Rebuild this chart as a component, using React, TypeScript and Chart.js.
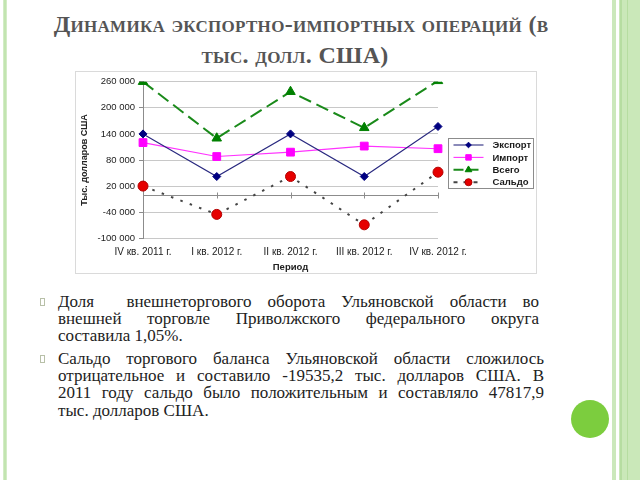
import React, { useEffect, useRef } from "react";
import { Chart, registerables } from "chart.js";
import { drawPoint } from "chart.js/helpers";

Chart.register(...registerables);

// ---------- data ----------
const categories = ["IV кв. 2011 г.", "I кв. 2012 г.", "II кв. 2012 г.", "III кв. 2012 г.", "IV кв. 2012 г."];
const exportValues = [140000, 42000, 140000, 42000, 157000];
const importValues = [120000, 88000, 98000, 112000, 106000];
const totalValues = [260000, 130000, 237000, 154000, 262000];
const saldoValues = [20000, -45000, 42000, -69000, 52000];
const seriesNames = ["Экспорт", "Импорт", "Всего", "Сальдо"];
const yMin = -100000;
const yMax = 260000;
const yStep = 60000;
const yAxisTitle = "Тыс. долларов США";
const xAxisTitle = "Период";

const titleLine1 = "Динамика экспортно-импортных операций (в";
const titleLine2 = "тыс. долл. США)";
const paragraph1 = [
  "Доля  внешнеторгового оборота Ульяновской области во",
  "внешней торговле Приволжского федерального округа",
  "составила 1,05%.",
];
const paragraph2 = [
  "Сальдо торгового баланса Ульяновской области сложилось",
  "отрицательное и составило -19535,2 тыс. долларов США. В",
  "2011 году сальдо было положительным и составляло 47817,9",
  "тыс. долларов США.",
];

function fmt(v: number): string {
  const s = Math.abs(v).toString().replace(/\B(?=(\d{3})+(?!\d))/g, " ");
  return (v < 0 ? "-" : "") + s;
}

const FONT = "'Liberation Sans', Arial, sans-serif";

const zeroLinePlugin = {
  id: "zeroLine",
  beforeDatasetsDraw(chart: any) {
    const { ctx, chartArea, scales } = chart;
    const y = Math.round(scales.y.getPixelForValue(0)) + 0.5;
    ctx.save();
    ctx.strokeStyle = "#8c8c8c";
    ctx.lineWidth = 1;
    ctx.beginPath();
    ctx.moveTo(chartArea.left, y);
    ctx.lineTo(chartArea.right, y);
    for (let i = 0; i < categories.length; i++) {
      const x = Math.round(scales.x.getPixelForValue(i)) + 0.5;
      ctx.moveTo(x, y - 3);
      ctx.lineTo(x, y + 3);
    }
    ctx.stroke();
    ctx.restore();
  },
};

const boxLegendPlugin = {
  id: "boxLegend",
  afterDraw(chart: any) {
    const { ctx, chartArea } = chart;
    const w = 85;
    const h = 50;
    const x0 = Math.round(chartArea.right + 10) + 0.5;
    const y0 = Math.round((chartArea.top + chartArea.bottom) / 2 - h / 2 + 3) + 0.5;
    ctx.save();
    ctx.fillStyle = "#ffffff";
    ctx.fillRect(x0, y0, w, h);
    ctx.strokeStyle = "#8c8c8c";
    ctx.lineWidth = 1;
    ctx.strokeRect(x0, y0, w, h);
    chart.data.datasets.forEach((ds: any, i: number) => {
      const y = y0 + 6.5 + i * 12.4;
      ctx.save();
      ctx.strokeStyle = ds.borderColor;
      ctx.lineWidth = ds.borderWidth;
      ctx.setLineDash(ds.legendDash || []);
      ctx.beginPath();
      ctx.moveTo(x0 + 5, y);
      ctx.lineTo(x0 + 35, y);
      ctx.stroke();
      ctx.restore();
      ctx.save();
      ctx.fillStyle = ds.pointBackgroundColor;
      ctx.strokeStyle = ds.pointBorderColor;
      ctx.lineWidth = 1;
      drawPoint(ctx, { pointStyle: ds.pointStyle, radius: ds.pointRadius * 0.7, rotation: 0, borderWidth: 1 }, x0 + 20, y);
      ctx.restore();
      ctx.fillStyle = "#1a1a1a";
      ctx.font = "bold 9.5px " + FONT;
      ctx.textBaseline = "middle";
      ctx.textAlign = "left";
      ctx.fillText(ds.label, x0 + 44, y + 0.5);
    });
    ctx.restore();
  },
};

function ChartBox() {
  const ref = useRef<HTMLCanvasElement | null>(null);
  useEffect(() => {
    if (!ref.current) return;
    const chart = new Chart(ref.current, {
      type: "line",
      data: {
        labels: categories,
        datasets: [
          {
            label: seriesNames[0],
            data: exportValues,
            borderColor: "#2a2a80",
            borderWidth: 1.1,
            pointStyle: "rectRot",
            pointRadius: 4,
            pointBackgroundColor: "#000080",
            pointBorderColor: "#000080",
            pointBorderWidth: 1,
          } as any,
          {
            label: seriesNames[1],
            data: importValues,
            borderColor: "#ff33ff",
            borderWidth: 1.1,
            pointStyle: "rect",
            pointRadius: 5.5,
            pointBackgroundColor: "#ff00ff",
            pointBorderColor: "#ff00ff",
            pointBorderWidth: 1,
          } as any,
          {
            label: seriesNames[2],
            data: totalValues,
            borderColor: "#1a8a1a",
            borderWidth: 2,
            borderDash: [13, 6],
            legendDash: [10, 5],
            pointStyle: "triangle",
            pointRadius: 5.5,
            pointBackgroundColor: "#008000",
            pointBorderColor: "#008000",
            pointBorderWidth: 1,
          } as any,
          {
            label: seriesNames[3],
            data: saldoValues,
            borderColor: "#444444",
            borderWidth: 2,
            borderDash: [2.5, 7.5],
            legendDash: [4, 6],
            pointStyle: "circle",
            pointRadius: 5,
            pointBackgroundColor: "#e60000",
            pointBorderColor: "#b30000",
            pointBorderWidth: 1,
          } as any,
        ],
      },
      options: {
        responsive: false,
        animation: false,
        devicePixelRatio: 1,
        layout: { padding: { top: 8.7, right: 98, bottom: 0, left: 0 } },
        plugins: {
          legend: { display: false },
          tooltip: { enabled: false },
          title: { display: false },
        },
        elements: { line: { tension: 0 } },
        scales: {
          x: {
            type: "category",
            offset: false,
            grid: { display: false },
            border: { display: false },
            ticks: {
              color: "#222222",
              font: { family: FONT, size: 10 },
              padding: 0,
              maxRotation: 0,
              autoSkip: false,
            },
            title: {
              display: true,
              text: xAxisTitle,
              color: "#222222",
              font: { family: FONT, size: 9.5, weight: "bold" },
              padding: { top: 0, bottom: 0 },
            },
            afterFit(scale: any) {
              scale.height = 34.7;
            },
          },
          y: {
            min: yMin,
            max: yMax,
            grid: {
              color: "#c8c8c8",
              tickColor: "#8c8c8c",
              tickLength: 4,
              drawTicks: true,
            },
            border: { display: true, color: "#8c8c8c", width: 1 },
            ticks: {
              stepSize: yStep,
              color: "#222222",
              font: { family: FONT, size: 9.5 },
              padding: 4,
              callback: (v: any) => fmt(Number(v)),
            },
            title: {
              display: true,
              text: yAxisTitle,
              color: "#222222",
              font: { family: FONT, size: 9, weight: "bold" },
              padding: { top: 3, bottom: 0 },
            },
            afterFit(scale: any) {
              scale.width = 67;
            },
          },
        },
      },
      plugins: [zeroLinePlugin, boxLegendPlugin],
    } as any);
    return () => chart.destroy();
  }, []);
  return <canvas ref={ref} width={460} height={201} style={{ position: "absolute", left: 76, top: 72, width: 460, height: 201 }} />;
}

export default function App() {
  const serif = "'Liberation Serif', 'Times New Roman', serif";
  const lineStyle = (last: boolean): React.CSSProperties => ({
    whiteSpace: "pre",
    textAlign: last ? "left" : "justify",
    textAlignLast: last ? "left" : "justify",
    height: 17.4,
    lineHeight: "17.4px",
    overflow: "visible",
  });
  const titleStyle: React.CSSProperties = {
    position: "absolute",
    left: 0,
    textAlign: "center",
    fontFamily: serif,
    fontWeight: "bold",
    fontSize: 24,
    letterSpacing: "0.3px",
    fontVariant: "small-caps",
    color: "#555555",
    lineHeight: "24px",
    whiteSpace: "pre",
  };
  return (
    <div style={{ position: "fixed", left: 0, top: 0, width: 640, height: 480, background: "#ffffff", overflow: "hidden" }}>
      {/* left decoration */}
      <div style={{ position: "absolute", left: 3, top: 0, width: 4, height: 480, background: "#d3ecc6" }} />
      <div style={{ position: "absolute", left: 4, top: 0, width: 2, height: 480, background: "#c2e4b0" }} />
      {/* right decoration */}
      <div style={{ position: "absolute", left: 612, top: 0, width: 4, height: 480, background: "#cbe8bb" }} />
      <div style={{ position: "absolute", left: 619, top: 0, width: 21, height: 480, background: "#cae8b9" }} />
      <div style={{ position: "absolute", left: 620, top: 0, width: 2, height: 480, background: "#b6dda1" }} />
      <div style={{ position: "absolute", left: 627, top: 0, width: 1, height: 480, background: "#b6dda1" }} />
      {/* green circle */}
      <div style={{ position: "absolute", left: 571, top: 400, width: 38, height: 38, borderRadius: "50%", background: "#7ccd3e" }} />

      {/* title */}
      <div style={{ ...titleStyle, top: 11.6, width: 602 }}>{titleLine1}</div>
      <div style={{ ...titleStyle, top: 43.2, width: 590 }}>{titleLine2}</div>

      {/* chart frame */}
      <div style={{ position: "absolute", left: 75, top: 71, width: 462, height: 203, boxSizing: "border-box", border: "1px solid #dadada" }} />
      <ChartBox />

      {/* bullets */}
      <div style={{ position: "absolute", left: 40, top: 298, width: 3, height: 6, border: "1px solid #b8c0a8" }} />
      <div style={{ position: "absolute", left: 40, top: 355, width: 3, height: 6, border: "1px solid #b8c0a8" }} />

      {/* paragraphs */}
      <div style={{ position: "absolute", left: 58, top: 292.5, width: 481, fontFamily: serif, fontSize: 17, color: "#222222" }}>
        {paragraph1.map((l, i) => (
          <div key={i} style={lineStyle(i === paragraph1.length - 1)}>{l}</div>
        ))}
      </div>
      <div style={{ position: "absolute", left: 58, top: 349.5, width: 486, fontFamily: serif, fontSize: 17, color: "#222222" }}>
        {paragraph2.map((l, i) => (
          <div key={i} style={lineStyle(i === paragraph2.length - 1)}>{l}</div>
        ))}
      </div>
    </div>
  );
}
